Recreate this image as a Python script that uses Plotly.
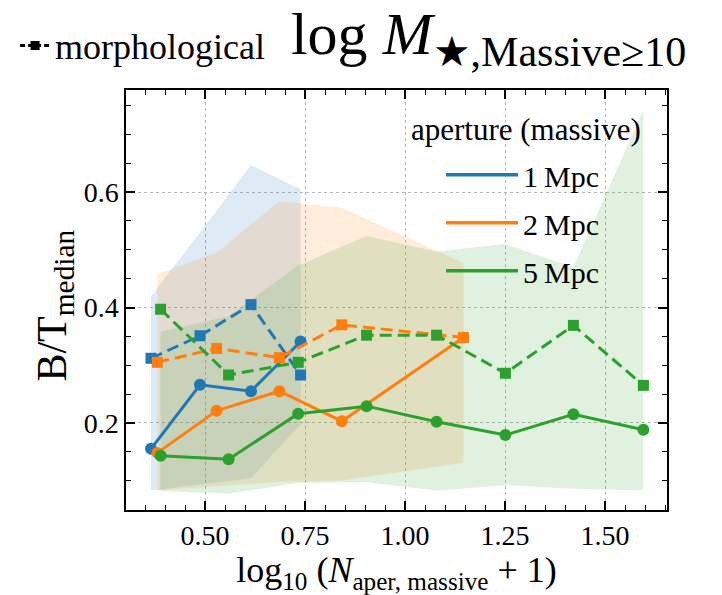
import plotly.graph_objects as go

# Bin centres in log10(N_aper, massive + 1) and B/T statistics per aperture
x_1mpc = [0.365, 0.4875, 0.615, 0.739]
bt_1mpc = [0.155, 0.266, 0.255, 0.341]
bt_morph_1mpc = [0.312, 0.351, 0.405, 0.283]
lo_1mpc = [0.083, 0.093, 0.104, 0.198]
hi_1mpc = [0.420, 0.530, 0.647, 0.605]

x_2mpc = [0.381, 0.529, 0.686, 0.842, 1.146]
bt_2mpc = [0.148, 0.221, 0.255, 0.203, 0.348]
bt_morph_2mpc = [0.305, 0.329, 0.313, 0.370, 0.348]
lo_2mpc = [0.083, 0.090, 0.098, 0.100, 0.131]
hi_2mpc = [0.458, 0.495, 0.584, 0.573, 0.477]

x_5mpc = [0.389, 0.559, 0.733, 0.904, 1.079, 1.251, 1.421, 1.596]
bt_5mpc = [0.143, 0.137, 0.216, 0.229, 0.202, 0.179, 0.215, 0.188]
bt_morph_5mpc = [0.397, 0.283, 0.305, 0.352, 0.352, 0.286, 0.369, 0.265]
lo_5mpc = [0.082, 0.077, 0.096, 0.097, 0.083, 0.092, 0.086, 0.083]
hi_5mpc = [0.358, 0.385, 0.473, 0.524, 0.497, 0.510, 0.470, 0.742]

apertures = ["1\u2009Mpc", "2\u2009Mpc", "5\u2009Mpc"]
colors = ["#1f77b4", "#ff7f0e", "#2ca02c"]
fills = ["rgba(31,119,180,0.15)", "rgba(255,127,14,0.15)", "rgba(44,160,44,0.15)"]

series = [
    (x_1mpc, bt_1mpc, bt_morph_1mpc, lo_1mpc, hi_1mpc),
    (x_2mpc, bt_2mpc, bt_morph_2mpc, lo_2mpc, hi_2mpc),
    (x_5mpc, bt_5mpc, bt_morph_5mpc, lo_5mpc, hi_5mpc),
]

SERIF = "Liberation Serif"
fig = go.Figure()

# percentile bands
for (x, _, _, lo, hi), fc in zip(series, fills):
    fig.add_trace(go.Scatter(
        x=list(x) + list(x[::-1]), y=list(hi) + list(lo[::-1]),
        fill="toself", fillcolor=fc, mode="none",
        hoverinfo="skip", showlegend=False))

# medians: solid = aperture B/T, dashed = morphological B/T
for (x, bt, btm, _, _), c in zip(series, colors):
    fig.add_trace(go.Scatter(
        x=x, y=bt, mode="lines+markers",
        line=dict(color=c, width=3),
        marker=dict(symbol="circle", size=12, color=c),
        showlegend=False))
    fig.add_trace(go.Scatter(
        x=x, y=btm, mode="lines+markers",
        line=dict(color=c, width=3, dash="12px,6px"),
        marker=dict(symbol="square", size=11, color=c),
        showlegend=False))

# legend entries for the apertures
for i, (name, c) in enumerate(zip(apertures, colors)):
    fig.add_trace(go.Scatter(
        x=[None], y=[None], mode="lines", name=name,
        line=dict(color=c, width=3.5), legendgroup=f"g{i}",
        legend="legend"))

# style key for the morphological estimate
fig.add_trace(go.Scatter(
    x=[None], y=[None], mode="lines+markers", name="morphological",
    line=dict(color="black", width=3, dash="5px,3px"),
    marker=dict(symbol="square", size=9, color="black"),
    legend="legend2"))

axis_common = dict(
    showline=True, linecolor="black", linewidth=1.5, mirror="allticks",
    ticks="inside", ticklen=9, tickwidth=1.5, tickcolor="black",
    showgrid=True, gridcolor="#b5b5b5", griddash="dot", gridwidth=1,
    zeroline=False,
    tickfont=dict(family=SERIF, size=28, color="black"),
)

fig.update_xaxes(
    range=[0.3025, 1.655], tickvals=[0.5, 0.75, 1.0, 1.25, 1.5],
    ticktext=["0.50", "0.75", "1.00", "1.25", "1.50"],
    minor=dict(dtick=0.05, tick0=0, ticks="inside", ticklen=5,
               tickwidth=1.2, tickcolor="black", showgrid=False),
    title=dict(text="log<sub>10</sub> (<i>N</i><sub>aper, massive</sub> + 1)",
               font=dict(family=SERIF, size=36, color="black"), standoff=6),
    **axis_common)
fig.update_yaxes(
    range=[0.049, 0.777], tickvals=[0.2, 0.4, 0.6],
    ticktext=["0.2", "0.4", "0.6"],
    minor=dict(dtick=0.05, tick0=0, ticks="inside", ticklen=5,
               tickwidth=1.2, tickcolor="black", showgrid=False),
    **axis_common)

# y-axis label
fig.add_annotation(
    text="B/T<sub>median</sub>", xref="paper", yref="paper",
    x=-0.131, y=0.487, xanchor="center", yanchor="middle",
    textangle=-90, showarrow=False,
    font=dict(family=SERIF, size=42, color="black"))

# legend heading
fig.add_annotation(
    text="aperture (massive)", xref="paper", yref="paper",
    x=0.523, y=0.905, xanchor="left", yanchor="middle", showarrow=False,
    font=dict(family=SERIF, size=31, color="black"))

fig.update_layout(
    width=722, height=595,
    margin=dict(l=126, r=55, t=90, b=82),
    paper_bgcolor="white", plot_bgcolor="white",
    title=dict(text="log <i>M</i><sub>\u2605,Massive\u226510</sub>",
               font=dict(family=SERIF, size=60, color="black"),
               x=0.403, xanchor="left", xref="container",
               y=0.945, yanchor="middle", yref="container"),
    legend=dict(
        font=dict(family=SERIF, size=30, color="black"),
        x=0.5823, xanchor="left", y=0.86, yanchor="top",
        bgcolor="rgba(0,0,0,0)", borderwidth=0,
        itemwidth=72, tracegroupgap=6),
    legend2=dict(
        font=dict(family=SERIF, size=36, color="black"),
        x=-0.205, xanchor="left", xref="paper",
        y=1.106, yanchor="middle", yref="paper",
        bgcolor="rgba(0,0,0,0)", borderwidth=0),
)

fig.write_html("out.html")
